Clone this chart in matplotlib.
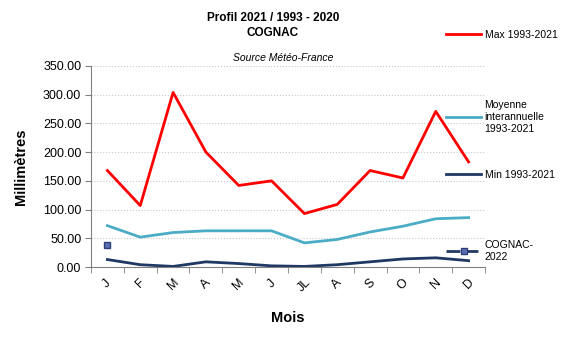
import matplotlib
matplotlib.use("Agg")
import matplotlib.pyplot as plt
import numpy as np

plt.rcParams['font.family'] = ['Liberation Sans', 'DejaVu Sans']

mois = ["J", "F", "M", "A", "M", "J", "JL", "A", "S", "O", "N", "D"]
max_9321 = [168, 107, 304, 200, 142, 150, 93, 109, 168, 155, 271, 183]
moy_9321 = [72, 52, 60, 63, 63, 63, 42, 48, 61, 71, 84, 86]
min_9321 = [13, 4, 1, 9, 6, 2, 1, 4, 9, 14, 16, 11]
cognac_2022 = [39]

x = np.arange(len(mois))

fig = plt.figure(figsize=(5.67, 3.41), dpi=100)
ax = fig.add_axes([91 / 567, 1 - 267 / 341, 394 / 567, 201 / 341])

l_max, = ax.plot(x, max_9321, color="#FF0000", lw=2)
l_moy, = ax.plot(x, moy_9321, color="#4BACC6", lw=2)
l_min, = ax.plot(x, min_9321, color="#1F3864", lw=2)
l_cog, = ax.plot(x[:len(cognac_2022)], cognac_2022, color="#1F3864", lw=2, ls=(0, (5, 1.5)),
                 marker="s", ms=5, mfc="#5B6FB0", mec="#2E3E7A")

ax.set_xlim(-0.5, 11.5)
ax.set_ylim(0, 350)
ax.set_yticks(np.arange(0, 351, 50))
ax.set_yticklabels([f"{v:.2f}" for v in np.arange(0, 351, 50)], fontsize=9)
ax.set_xticks(x)
ax.set_xticklabels(mois, rotation=45, fontsize=9)
ax.tick_params(axis="x", length=0, pad=7)
ax.set_xticks(np.arange(-0.5, 12, 1), minor=True)
ax.tick_params(axis="x", which="minor", length=4, color="#808080")
ax.tick_params(axis="y", length=4, color="#808080", pad=3)
ax.grid(axis="y", color="#C8C8C8", ls=":", lw=0.8)
ax.set_axisbelow(True)
for s in ["top", "right"]:
    ax.spines[s].set_visible(False)
for s in ["left", "bottom"]:
    ax.spines[s].set_color("#808080")

ax.set_ylabel("Millimètres", fontsize=10.5, fontweight="bold", labelpad=11)
ax.set_xlabel("Mois", fontsize=10.5, fontweight="bold", labelpad=12)

fig.text(273 / 567, 1 - 18 / 341, "Profil 2021 / 1993 - 2020", ha="center", va="center",
         fontsize=8.5, fontweight="bold")
fig.text(273 / 567, 1 - 33 / 341, "COGNAC", ha="center", va="center",
         fontsize=8.5, fontweight="bold")
fig.text(283 / 567, 1 - 58 / 341, "Source Météo-France", ha="center", va="center",
         fontsize=7.5, style="italic")

entries = [(l_max, "Max 1993-2021", 35), (l_moy, "Moyenne\ninterannuelle\n1993-2021", 117),
           (l_min, "Min 1993-2021", 175), (l_cog, "COGNAC-\n2022", 251)]
for h, lab, yy in entries:
    fig.legend([h], [lab], loc="center left", bbox_to_anchor=(446 / 567, 1 - yy / 341),
               frameon=False, fontsize=7.5, handlelength=3.4, handletextpad=0.3,
               borderpad=0, borderaxespad=0, numpoints=1)

fig.savefig("out.png", dpi=100)
